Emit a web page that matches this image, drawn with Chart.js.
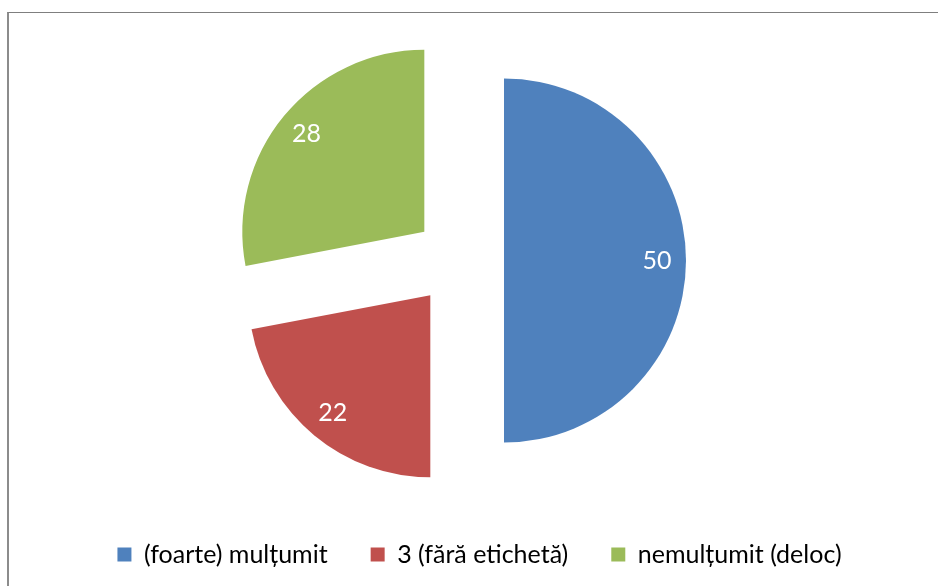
<!DOCTYPE html>
<html><head><meta charset="utf-8">
<script src="https://cdn.jsdelivr.net/npm/chart.js@4"></script>
<style>
html,body{margin:0;padding:0;background:#fff;}
#wrap{position:relative;width:938px;height:586px;overflow:hidden;}
#frame{position:absolute;left:7px;top:12px;right:-5px;bottom:-5px;border-left:2px solid #8c8c8c;border-top:1px solid #7f7f7f;pointer-events:none;}
#box{position:absolute;left:0;top:0;width:938px;height:586px;}
</style></head><body>
<div id="wrap"><div id="frame"></div><div id="box"><canvas id="c"></canvas></div></div>
<script>
const categories = ['(foarte) mulțumit', '3 (fără etichetă)', 'nemulțumit (deloc)'];
const values = [50, 22, 28];
const colors = ['#4F81BD', '#C0504D', '#9BBB59'];

const EXPLODE = 45;

const explode = {
  id: 'explode',
  beforeDatasetDraw(chart, args, opts) {
    const ctx = chart.ctx;
    args.meta.data.forEach(arc => {
      const mid = (arc.startAngle + arc.endAngle) / 2;
      ctx.save();
      ctx.translate(Math.cos(mid) * opts.distance, Math.sin(mid) * opts.distance);
      arc.draw(ctx);
      ctx.restore();
    });
    return false;
  }
};

const sliceLabels = {
  id: 'sliceLabels',
  afterDatasetsDraw(chart, args, opts) {
    const ctx = chart.ctx;
    const meta = chart.getDatasetMeta(0);
    const data = chart.data.datasets[0].data;
    ctx.save();
    ctx.font = opts.font;
    ctx.fillStyle = opts.color;
    ctx.textAlign = 'center';
    ctx.textBaseline = 'middle';
    meta.data.forEach((arc, i) => {
      const mid = (arc.startAngle + arc.endAngle) / 2;
      const d = opts.distance + arc.outerRadius * opts.radiusFraction;
      ctx.fillText(String(data[i]), arc.x + Math.cos(mid) * d, arc.y + Math.sin(mid) * d);
    });
    ctx.restore();
  }
};

new Chart(document.getElementById('c'), {
  type: 'pie',
  data: {
    labels: categories,
    datasets: [{
      data: values,
      backgroundColor: colors,
      borderWidth: 0,
      radius: 182
    }]
  },
  options: {
    responsive: true,
    maintainAspectRatio: false,
    animation: false,
    events: [],
    layout: { padding: { left: 21, right: 0, top: 22, bottom: 9 } },
    plugins: {
      tooltip: { enabled: false },
      title: {
        display: true, position: 'right', text: '',
        font: { size: 10, lineHeight: 1 },
        padding: { top: 31, bottom: 0 }
      },
      legend: {
        position: 'bottom',
        labels: {
          boxWidth: 14, boxHeight: 14,
          padding: 43,
          color: '#000',
          font: { family: 'Lato', size: 25 }
        }
      },
      explode: { distance: EXPLODE },
      sliceLabels: { distance: EXPLODE, radiusFraction: 0.84, color: '#fff', font: '25px Lato' }
    }
  },
  plugins: [explode, sliceLabels]
});
</script>
</body></html>
